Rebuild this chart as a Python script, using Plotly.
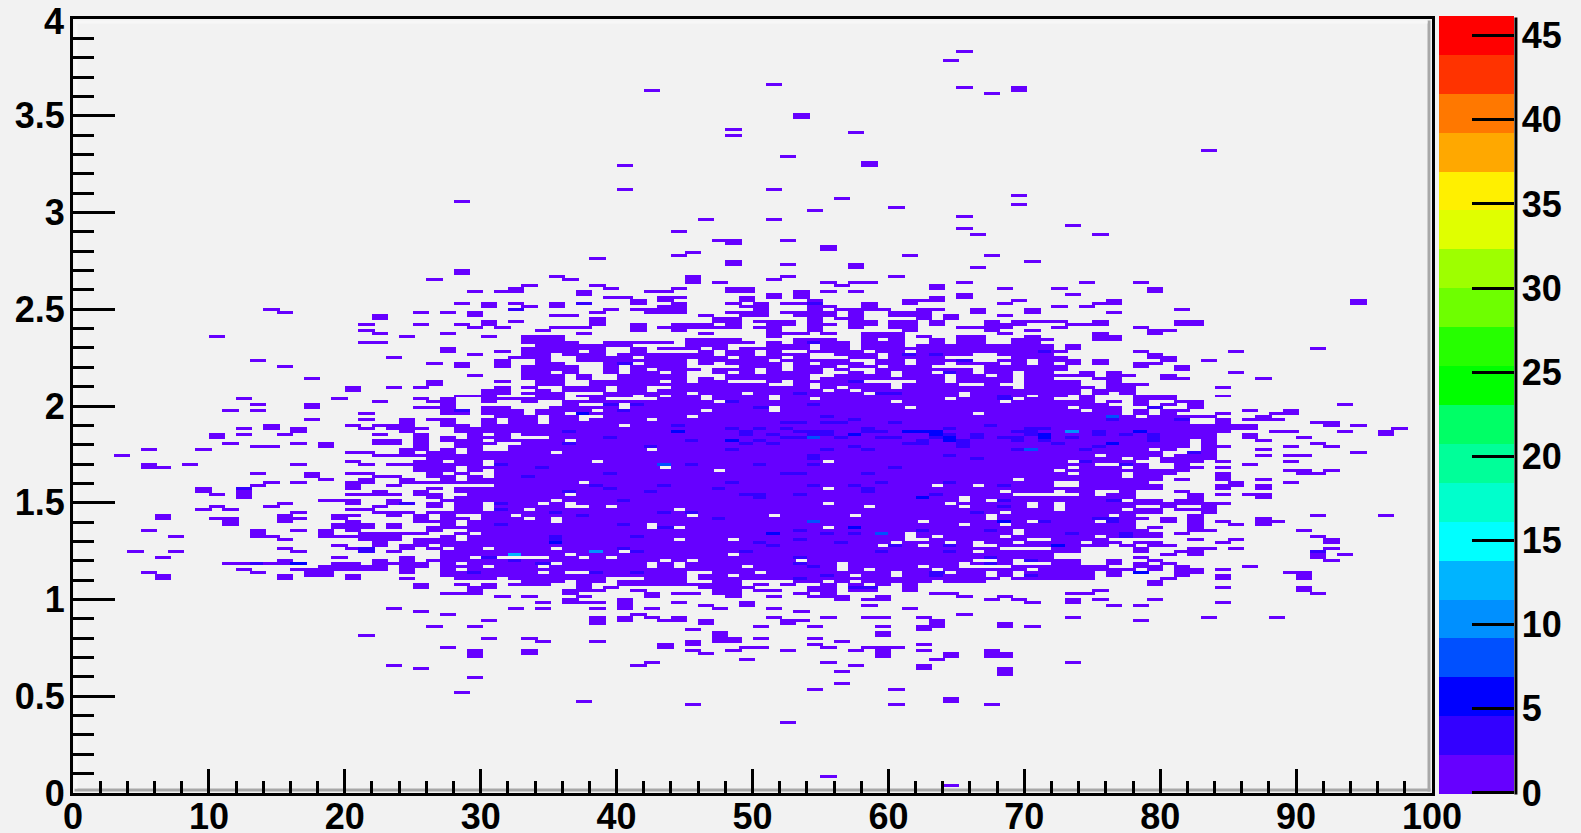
import plotly.graph_objects as go

# ---- histogram description: 100 x bins (width 1), rows of height 4/258.33 ----
N_X = 100
N_ROWS = 259
Y_MAX = 4.0
ROW_H = 4.0 / 258.33
Z_MIN = -0.09
Z_MAX = 46.14

# isolated upper cells: row -> x bins
top_cells = {
 247:"65",244:"64",236:"51",235:"65 69",234:"42 69",233:"67",226:"53",225:"53",221:"48",220:"57",219:"48",
 214:"83",212:"52",210:"58",209:"40 58",201:"40 51",199:"69",198:"56",197:"28",196:"69",195:"60",194:"54",
 192:"65",191:"46 51",189:"73",188:"65",187:"44",186:"66 75",184:"47 48 52",183:"48",182:"55",181:"55",
 180:"45",179:"44 61 67",178:"38",177:"48 70",176:"48 52 57",175:"57 66",174:"28",172:"35 45 52 60",171:"26 36 45 51",
}

# left wing (bins below 36)
left_cells = {
 173:"28",172:"35",171:"26",169:"33",168:"32",167:"29 31 32",163:"28 30 32 35",162:"30 33 35",161:"14 32",
 160:"15 25 27 29",159:"22 29 35",158:"22",157:"30 32",156:"21 25 28 30",155:"29 31 35",154:"21 34",153:"22 27",
 152:"10 24 30 33 34",151:"33-35",150:"21 22 33-35",149:"34 35",148:"27 33-35",147:"27 31 33 34",146:"29 33",
 145:"23 32-34",144:"13 31 34",143:"26 28 31 34 35",142:"15 28 31 33-35",141:"33 35",140:"33 35",139:"29 33 35",
 138:"17 33-35",137:"26 31 34 35",136:"26 35",135:"20 23 25 31 33",134:"20 30 31",133:"30 31 33 35",
 132:"28-30 34 35",131:"12 19 25 27 30-33 35",130:"22 26 27 30 33",129:"13 17 27",128:"17 25-27 30 31 35",
 127:"11 13 27 28 30-32 34 35",126:"21 27 28 30-32 34 35",125:"31-33 35",124:"17 21 24 26 27 30 32 33 35",
 123:"24 27 30 32 33 35",122:"14 20 22-24 27 28 30-35",121:"12 14 16 21 23-25 28-35",120:"16 24 28-35",
 119:"10 12 15 22 25 29 31 33-35",118:"10 25 27 29-31 35",117:"22 23 25 27-29 31-35",
 116:"11 16 18 22 23 25 28-30 33-35",115:"13 14 18 25 28 29 32-35",114:"5 9 24 25 27 29 32-35",
 113:"20 21 24 26 27 29-33 35",112:"3 22-35",111:"26-35",110:"20 25 26 28 29 31-35",109:"5 8 16 21 23-29 31-35",
 108:"5 6 25-27 29-35",107:"25-27 29 31-35",106:"13 17 20 21 26 28 31-35",105:"17 22 23 26 27 29 31-35",
 104:"18 21 24 27 29-35",103:"14 16 20 21 24-35",102:"13 20 23 31-35",101:"9 12 20 26 28-35",100:"9 12 22 25 28-35",
 99:"10 12 20-23 25 26 29-35",98:"12 26 28-35",97:"18-20 23 27-35",96:"15 20 23 24 26 28 29 31-33 35",
 95:"10 14 22 26 28 29 31-35",94:"9 11 20 21 28 29 31 32 34 35",93:"16 22-24 26-35",92:"6 15 19 20 23 25 27 30 31 33-35",
 91:"6 10 11 15 16 19 25 27 28 30-32 34",90:"11 15 20 25-27 29-33 35",89:"11 19-21 23 27 29-35",88:"19-21 23 26-35",
 87:"5 13 16 18 20 26 29-35",86:"13 18 21-25 28 30-35",85:"7 13 14 18-23 27 29-35",84:"15 21-23 25-27 29-35",
 83:"22 25-35",82:"19 22 24 25 27-35",81:"15 20 21 24 26 28 29 31-35",80:"4 7 16 21 23 27-35",79:"27-35",
 78:"6 19 24 27 28 30 35",77:"15 22 24 26-35",76:"11-16 19 20 22-25 27 29-35",75:"18-22 24 25 27-29 31-33 35",
 74:"12 16-22 24 27 29-33 35",73:"5 13 17 18 24 27-35",72:"6 15 17 18 20 27-35",71:"6 15 20 24 28-30 32-35",
 70:"33-35",69:"25 28 30 32-34",68:"25 29 30",67:"29 36",66:"27-29",65:"31 33",
}

# sparse rows above the dense core, central bins
upper_mid_cells = {
 172:"35 45 52 60",171:"36 45 51",170:"45 47 55 57 58 65",169:"38 56 63",168:"39 44 48 49 63 68",
 167:"37 42 43 48 49 53 55 57",166:"37 51 53 65",165:"39 40 43 44 49 51 53 63 65",164:"41 43 49 54 61-63 69",
 163:"35 37 41 44 48 50 52-54 58 61 68",162:"35 43 44 49 50 54 55 58",161:"39 41-44 50 54 56-59 62 63 66 70",
 160:"38 42-44 48-50 52-55 57 60-62 66 70",159:"36 46 49 50 53-55 57 60-62 64 68",158:"38 47 48 54 56 57 62 64",
 157:"38 47 48 50-52 54 57 58 60 61 63 67 69-71",156:"38 41 44-46 48 51 52 54 55 57 58 60 61 63 67-69",
 155:"36 37 41 43-48 50 51 54 57 60 61 65-68",154:"34 41 44 51 54 61 67 70",153:"37 46 51-53 55 58-60 68",
 152:"34 35 51 58-60 62 65 66",151:"34 35 45-48 53-55 58 60 63 65 66 69-71",
 150:"34-36 39-43 45-49 51 53-56 58-60 63 65 66 69 70",
}

# dense core: rows 72..149 fill bins 34..71 except these empty bins
core_holes = {
 149:"41-44 48-50 54 57 61",148:"39 40 42 46 48 54 57",147:"37 39 40 42-45 47 50 52 53 58 61",
 146:"35 39 47 50 54 55 59 66 67",145:"35 36 41 48 52 54-56 59 64-68",144:"35 36 45 51 57 58 61 66 67 70",
 143:"36-38 41 45 47 52 54 58 61 64 68 70",142:"37 38 40 45-48 52 56 59 63-66",141:"37 38 40 42 46 50 52 55 57 58 66",
 140:"35 37 38 40 43 45 46 48 50 55 56 58 60 63 66 69",139:"36 38 39 45-47 54 55 60 64 67 69",138:"36 38 39 45 47 54 64 69",
 137:"36 37 43 45 48-50 52 58-61 64 69",136:"36 37 51 52 54 60 65 66 68 69",135:"34 35 39 42 43 54 56 60 69",
 134:"35 39 42 55 57",133:"36-38 45 49 58 65",132:"36 41 43 46 51 65 68 70",131:"36 37 39-42 46 51 54 64 69",
 130:"34 35 47 60 68",129:"34 35 37 38 40",128:"34 40 51 61",127:"38 46 51",126:"36 66",125:"34 37 38 45",124:"34 37 42",
 123:"34",122:"40",118:"34",117:"36",114:"42",113:"35",110:"38 55",108:"43",107:"47",104:"69",103:"37",102:"63 66 68",
 101:"55",100:"68",99:"36 69-71",98:"65",97:"35 65 67 68",96:"34 36 55 64 70",95:"36 37 39 58 65 70",94:"44",93:"68",
 92:"45 51 57 67",91:"35 67",90:"35 62 70",89:"42 65 68",88:"42 44 55",87:"69",86:"61 69",85:"61 63 68",84:"44 48 61 62 70 71",
 83:"60 64 66 69",82:"59 62 66 67",81:"35 68-71",80:"40 66",79:"36 48",78:"34 37 39 67",77:"43 45 53 66 67 69",
 76:"35 42 44 56 65 69-71",75:"34 42 44 49 56 62 65-68",74:"56 58 63 70",73:"34 36 37 45 46 50 60 64 67 69",
 72:"45 48 57 60 67 69 70",
}

# lower edge of the core and the sparse tail
lower_cells = {
 71:"34-38 42-44 46-67 69-71",70:"34 35 37 38 40-44 47 48 53 54 56 58-62 64-66",
 69:"34 37 40-48 50 52 55 57 59 61",68:"37 39 46-49 54 55 57 58 61",67:"36-38 41 47 48 50 51 54 55 57 58 61",
 66:"36 42 44 45 47 48 53 55 63 64",65:"37 42 48 51 54-56 59 65",
 64:"36 40 56 58 59 67 69 73 75 79",63:"34 36-38 40 44 49 70 73 84",62:"40 46 49 58 76 78",
 61:"23 32 34 38 40 42 47 51 61",60:"25 53",59:"27 41 65",58:"38 40 42 44 51 55 58 59 62 73 83 88",
 57:"30 38 40 43 44 46 52 53 63 78",56:"38 46 52 63 68",55:"26 29 50 54 59 62 63 68 70",54:"45 62",53:"47 59",
 52:"21 47 59",51:"30 33 47 48 50 54",50:"34 38 45 47 48 56",49:"43 45 54 62",48:"27 43 49 50 55 58-60",
 47:"29 33 45 48 52 57 59 62 67",46:"29 33 46 59 64 67 68",45:"29 59 64 67 68",44:"49 63",43:"42 55 73",42:"23 41 57 62",
 41:"25 62 68",40:"56 68",39:"68",38:"29",36:"56",34:"54 60",33:"28",31:"64",30:"37 64",29:"45 60 67",23:"52",5:"55",2:"64",
}

# right wing (bins from 68)
right_cells = {
 170:"74 78",168:"68 72 79",167:"79",166:"73",164:"69 76 94",163:"68 75 76 94",162:"72 74",161:"70 81",160:"70 76",159:"68",
 157:"69-72 75 81 82",156:"68 69 73-75 81 82",155:"68 72 78",154:"70 79 80",153:"68 75 79",152:"70 75 76",151:"69 70 75 76",150:"70",
 149:"69-71 73",148:"69-71 73 91",147:"68-72 78 85",146:"70 71 79",145:"69 70 72 79 80",144:"69 70 72 73 75 80 83",
 143:"68-70 73 75 78 79",142:"69 70 72 78 81",141:"72 81",140:"68 71 74 76 85",139:"68 70-74 76 77 80",138:"68 70 71 75 76 80 81 87",
 137:"69 72 73 76",136:"70-73 76-78",135:"68 70 72-74 76 77 84",134:"69-73 75-77",133:"69-73 75 77",132:"69 71 72 74 78-80 84",
 131:"69-71 74 78-80",130:"69-74 76 78 81 82",129:"68-75 78 80 82 93",128:"68-72 74-76 79 82",127:"68-70 72 73 75 76 78 80 81 86 89",
 126:"68-70 72-76 78 80 84 88 89",125:"68-77 79-83 87",124:"68-81 84 86-88",123:"68-81 84 91 92",122:"68-86 92 94",121:"68-86 97",
 120:"68-84 88 89 93 96",119:"68-83 86 96",118:"68-83 86 90",117:"68-81 83 87",116:"68-81 83 91",115:"68-81 83 84 89 92",
 114:"68-78 80 83 87",113:"68-79 82 83 94",112:"68-74 76-79 81-83 87 89 90",111:"68-76 78 80-83",110:"68-72 74-77 80-82 84 89",
 109:"68-74 77 78 81 86",108:"68-72 74-76 78 81 82 84",107:"68-71 73-81 89 90 92",106:"68-72 74-76 78-80 84 90 91",105:"68-76 78 79 84",
 104:"68 70 72-79 81 84 87",103:"68-71 74-78 85 89",102:"68-71 74-79 84 85 87",101:"68-79 84 87",100:"69-71 73 74 77 81",
 99:"68 74 76 77 82 84 86 87",98:"68-70 72-77 82 87",97:"69-76 78 79 81 82",96:"68-71 73-84",95:"68-71 73-77 80 83",
 94:"68-71 73-76 78 79 81-83",93:"68-79 83",92:"68-75 77 82 91 96",91:"68-78 80 82 87",90:"68 70-74 76 77 80 82 84 87 88",
 89:"68-77 82 85 87",88:"68-70 72-77 79 82",87:"68 70-78 82 83 90",86:"68 70-79 81",85:"68-74 76-79 91",84:"68 70-75 82 85 92",
 83:"68-73 75 76 78 79 84 92",82:"68 69 72-75 77 79 80",81:"72 73 78 82 83 85 92",80:"68-73 78 81 82",79:"68-71 80 82 91 93",
 78:"68-71 78 91",77:"68 72 73 76 79 92",76:"68 71-73 76 78 80",75:"68 71-75 78 79 81 86",74:"69-77 79 81 82 84",
 73:"68 70-74 76 81 82 89 90",72:"70-74 76 81 84 90",71:"69 70 72-74 80 84 90",70:"79",69:"79",68:"84 90",67:"75 90",66:"73 74 91",65:"68",
}

# cells with more than one or two entries: value -> {row: bins}
hot_3 = {
 163:"37 54",161:"32",150:"54",147:"71",146:"61 63",144:"65",143:"40",140:"64",137:"57",133:"53 59 60",132:"68",131:"68",130:"48",
 129:"39 41 54",128:"50 79",127:"40 28",125:"55",124:"57 76 81",123:"52 53 55 56 60",122:"44 67",121:"48 50 52 58 64 70 71",
 120:"36 49 53-55 58 59 69 70 75",119:"49 51 54 55 64 66 70 75 77 79",118:"39 52 53 56 59 60 63 66 68 69 73 79",
 117:"45 50 62 65 69 71 79",116:"36 49 51 61 62 65 72",115:"42 57 65 75",114:"48 55 58 69 74",113:"82",112:"54 64",111:"54 66",
 110:"74",109:"31 45 50 54 77",108:"34 60",106:"39 52 53 58",105:"33",103:"48 59 64",102:"38 43 54 57 68",101:"12 39 47 58",
 100:"36 42 58",99:"49 50 53 63",98:"50",97:"40 68 76",96:"24 31",95:"68",94:"31",93:"35 43 45 66",92:"37",91:"47 75 76",
 90:"71 76",89:"31 40",88:"43",87:"53 62 67",86:"55 57 73 77",85:"35 41 77",84:"35 53",83:"50 56",82:"51 60 64",81:"21 40",
 80:"21 41 49 59 64 91",78:"30 53 67",77:"32 70",76:"13 34 53 67",75:"54",73:"29 38 41 63",72:"55 63 70",71:"53",68:"57 58",
}
hot_6 = {
 126:"37",120:"44 61-63 78",119:"57 63 71",118:"64 71",117:"48 64",116:"76",98:"62",90:"68",88:"57",86:"51",83:"35",82:"72",76:"16",73:"78",
}
hot_8 = {125:"76",118:"54",114:"70",109:"43",90:"54",86:"59"}
hot_11 = {120:"73",80:"38"}
hot_13 = {79:"32"}

# colour bands of the palette, bottom to top
band_colors = [
 "#6600ff","#3300ff","#0000ff","#0050ff","#0090ff","#00b4ff","#00ffff","#00ffcc","#00ff99","#00ff66",
 "#00ff00","#26ff00","#6eff00","#9eff00","#e0ff00","#fff000","#ffa800","#ff7800","#ff3300","#ff0000",
]

x_ticks = [0,10,20,30,40,50,60,70,80,90,100]
y_ticks = [0,0.5,1,1.5,2,2.5,3,3.5,4]
y_tick_text = ["0","0.5","1","1.5","2","2.5","3","3.5",""]
top_y_label = "4"
z_ticks = [0,5,10,15,20,25,30,35,40,45]


def bins(spec):
    out = []
    for part in spec.split():
        if "-" in part:
            a, b = part.split("-")
            out.extend(range(int(a), int(b) + 1))
        else:
            out.append(int(part))
    return out


z = [[None] * N_X for _ in range(N_ROWS)]

for table in (top_cells, upper_mid_cells, lower_cells):
    for r, spec in table.items():
        for b in bins(spec):
            z[r][b] = 1

CORE = (72, 149)
for r in range(CORE[0], CORE[1] + 1):
    holes = set(bins(core_holes.get(r, "")))
    for b in range(34, 72):
        if b not in holes:
            z[r][b] = 1

for r, spec in left_cells.items():
    for b in bins(spec):
        if not (CORE[0] <= r <= CORE[1] and b >= 34):
            z[r][b] = 1
for r, spec in right_cells.items():
    for b in bins(spec):
        if not (CORE[0] <= r <= CORE[1] and b < 72):
            z[r][b] = 1

for value, table in ((3, hot_3), (6, hot_6), (8, hot_8), (11, hot_11), (13, hot_13)):
    for r, spec in table.items():
        for b in bins(spec):
            z[r][b] = value

x_edges = list(range(N_X + 1))
# the source paints each cell slightly wider than its bin
PAINT_OVERLAP = 0.2
x_edges_overlap = [v + PAINT_OVERLAP for v in x_edges]
y_edges = [i * ROW_H for i in range(N_ROWS + 1)]

scale = []
n = len(band_colors)
for i, c in enumerate(band_colors):
    scale.append([i / n, c])
    scale.append([(i + 1) / n, c])

W, H = 1581, 833
L, R_EDGE, T, B = 72.5, 1432.5, 18.5, 793.5
PW, PH = R_EDGE - L, B - T
FONT = "Liberation Sans"
BG = "#f2f2f2"
TICK_FONT = dict(family=FONT, size=36, color="black", weight="bold")


def px(v):
    return (v - L) / PW


def py(v):
    return (B - v) / PH


fig = go.Figure()
fig.add_trace(go.Heatmap(
    z=z, x=x_edges_overlap, y=y_edges, zmin=Z_MIN, zmax=Z_MAX, colorscale=scale, hoverongaps=False, showscale=False,
))
fig.add_trace(go.Heatmap(
    z=z, x=x_edges, y=y_edges, zmin=Z_MIN, zmax=Z_MAX, colorscale=scale, hoverongaps=False,
    colorbar=dict(
        x=px(1440), xanchor="left", y=py(795), yanchor="bottom",
        thickness=75, thicknessmode="pixels", len=778, lenmode="pixels",
        xpad=0, ypad=0, outlinewidth=0, borderwidth=0,
        tickmode="array", tickvals=z_ticks, ticktext=[str(v) for v in z_ticks],
        ticks="inside", ticklen=42, tickwidth=3, tickcolor="black",
        tickfont=TICK_FONT,
    ),
))

fig.update_layout(
    width=W, height=H, autosize=False,
    margin=dict(l=L, r=W - R_EDGE, t=T, b=H - B, pad=0, autoexpand=False),
    paper_bgcolor=BG, plot_bgcolor=BG, showlegend=False,
    xaxis=dict(
        range=[0, 100], tickmode="array", tickvals=x_ticks, ticktext=[str(v) for v in x_ticks],
        ticks="inside", ticklen=24, tickwidth=3, tickcolor="black",
        minor=dict(ticks="inside", ticklen=12, tickwidth=3, tickcolor="black", dtick=2, tick0=0),
        showline=True, linewidth=3, linecolor="black", mirror=True, showgrid=False, zeroline=False,
        tickfont=TICK_FONT, ticklabelstandoff=-10, automargin=False,
    ),
    yaxis=dict(
        range=[0, Y_MAX], tickmode="array", tickvals=y_ticks, ticktext=y_tick_text,
        ticks="inside", ticklen=42, tickwidth=3, tickcolor="black",
        minor=dict(ticks="inside", ticklen=21, tickwidth=3, tickcolor="black", dtick=0.1, tick0=0),
        showline=True, linewidth=3, linecolor="black", mirror=True, showgrid=False, zeroline=False,
        tickfont=TICK_FONT, ticklabelstandoff=-2, automargin=False,
    ),
    annotations=[
        dict(text=top_y_label, xref="paper", yref="y", x=px(65.5), y=Y_MAX, xanchor="right", yanchor="middle",
             yshift=-2, showarrow=False, font=TICK_FONT),
    ],
    shapes=[
        dict(type="rect", xref="paper", yref="paper", x0=px(1428), x1=px(1431), y0=py(792), y1=py(20),
             fillcolor="#a8a8a8", line_width=0, layer="below"),
        dict(type="rect", xref="paper", yref="paper", x0=px(74), x1=px(1431), y0=py(792), y1=py(789),
             fillcolor="#a8a8a8", line_width=0, layer="below"),
        dict(type="rect", xref="paper", yref="paper", x0=px(74), x1=px(77), y0=py(789), y1=py(20),
             fillcolor="#f7f7f7", line_width=0, layer="below"),
        dict(type="rect", xref="paper", yref="paper", x0=px(74), x1=px(1428), y0=py(23), y1=py(20),
             fillcolor="#f7f7f7", line_width=0, layer="below"),
        dict(type="line", xref="paper", yref="paper", x0=px(1516.5), x1=px(1516.5), y0=py(795), y1=py(17),
             line=dict(color="black", width=3)),
    ],
)

fig.write_html("out.html", config=dict(displayModeBar=False),
               post_script="document.body.style.margin='0';document.body.style.overflow='hidden';")
